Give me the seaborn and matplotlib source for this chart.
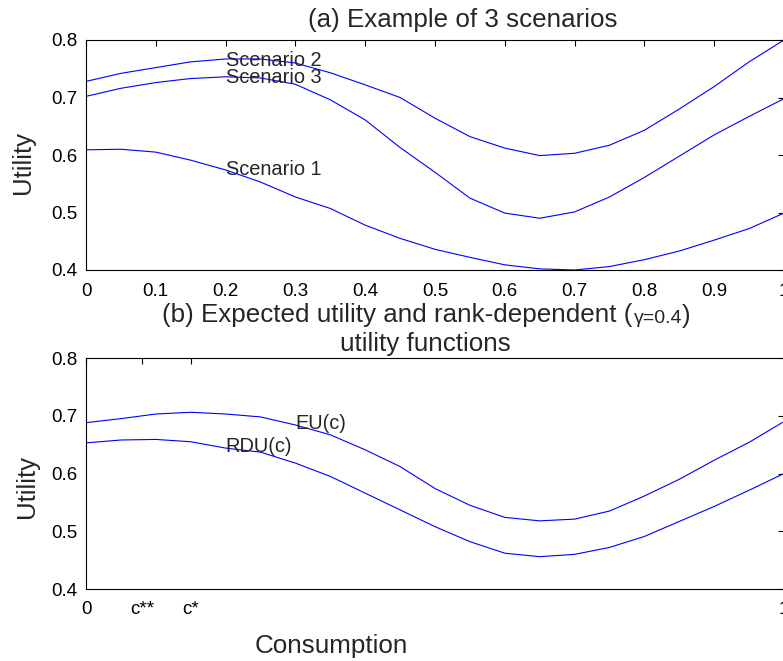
import matplotlib
matplotlib.use("Agg")
import matplotlib.pyplot as plt
import seaborn as sns
import pandas as pd

# ---------------- data ----------------
consumption = [0.00, 0.05, 0.10, 0.15, 0.20, 0.25, 0.30, 0.35, 0.40, 0.45, 0.50,
               0.55, 0.60, 0.65, 0.70, 0.75, 0.80, 0.85, 0.90, 0.95, 1.00]

scenario1 = [0.609, 0.610, 0.605, 0.591, 0.574, 0.553, 0.527, 0.507, 0.478, 0.455, 0.436,
             0.422, 0.409, 0.402, 0.400, 0.406, 0.418, 0.433, 0.452, 0.472, 0.499]
scenario2 = [0.728, 0.742, 0.752, 0.762, 0.767, 0.767, 0.760, 0.743, 0.722, 0.700, 0.664,
             0.632, 0.612, 0.599, 0.603, 0.617, 0.643, 0.680, 0.719, 0.762, 0.800]
scenario3 = [0.702, 0.716, 0.726, 0.733, 0.736, 0.734, 0.723, 0.696, 0.661, 0.613, 0.570,
             0.525, 0.499, 0.490, 0.501, 0.527, 0.561, 0.598, 0.635, 0.667, 0.698]

eu_curve = [0.688, 0.695, 0.703, 0.706, 0.703, 0.698, 0.684, 0.667, 0.641, 0.612, 0.574,
            0.545, 0.524, 0.518, 0.521, 0.535, 0.561, 0.590, 0.623, 0.654, 0.690]
rdu_curve = [0.653, 0.658, 0.659, 0.655, 0.644, 0.637, 0.618, 0.595, 0.566, 0.537, 0.508,
             0.482, 0.462, 0.456, 0.460, 0.472, 0.491, 0.517, 0.543, 0.571, 0.600]

top_xticks = [0, 0.1, 0.2, 0.3, 0.4, 0.5, 0.6, 0.7, 0.8, 0.9, 1.0]
top_xticklabels = ["0", "0.1", "0.2", "0.3", "0.4", "0.5", "0.6", "0.7", "0.8", "0.9", "1"]
yticks = [0.4, 0.5, 0.6, 0.7, 0.8]
yticklabels = ["0.4", "0.5", "0.6", "0.7", "0.8"]
bottom_xticks = [0, 0.08, 0.15, 1.0]
bottom_xticklabels = ["0", "c**", "c*", "1"]

scenario_labels = ["Scenario 1", "Scenario 2", "Scenario 3"]
scenario_label_pos = [(0.2, 0.565), (0.2, 0.755), (0.2, 0.726)]
curve_labels = ["EU(c)", "RDU(c)"]
curve_label_pos = [(0.3, 0.677), (0.2, 0.637)]

# ---------------- style ----------------
sns.set_style("white")
plt.rcParams['font.family'] = ['Liberation Sans', 'DejaVu Sans']
plt.rcParams['axes.linewidth'] = 0.8
plt.rcParams['axes.edgecolor'] = 'black'

BIG = 18.7
W, H = 783, 661
fig = plt.figure(figsize=(W / 100, H / 100), dpi=100)
fig.patch.set_facecolor('white')

ax1 = fig.add_axes([86 / W, 1 - 270 / H, 698 / W, 230 / H])
ax2 = fig.add_axes([86 / W, 1 - 589 / H, 698 / W, 231 / H])

line_kw = dict(color=(0, 0, 1), linewidth=0.8, estimator=None)

for ys in (scenario1, scenario2, scenario3):
    sns.lineplot(x=consumption, y=ys, ax=ax1, **line_kw)
for ys in (eu_curve, rdu_curve):
    sns.lineplot(x=consumption, y=ys, ax=ax2, **line_kw)

for ax in (ax1, ax2):
    ax.set_xlim(0, 1)
    ax.set_ylim(0.4, 0.8)
    ax.set_yticks(yticks)
    ax.set_yticklabels(yticklabels)
    ax.tick_params(direction='in', length=4.5, width=0.8, top=True, right=True,
                   labelsize=13.5, colors='black', pad=6)
    for s in ax.spines.values():
        s.set_visible(True)
        s.set_color('black')
        s.set_linewidth(0.8)
    ax.set_facecolor('white')
    ax.set_ylabel("Utility", fontsize=18.5)
    ax.yaxis.label.set_va('center')

ax1.set_xticks(top_xticks)
ax1.set_xticklabels(top_xticklabels)
ax2.set_xticks(bottom_xticks)
ax2.set_xticklabels(bottom_xticklabels)
ax1.tick_params(axis='x', pad=9)
ax2.tick_params(axis='x', pad=9)

ax1.yaxis.set_label_coords((23 - 86) / 698, (270 - 162) / 230)
ax2.yaxis.set_label_coords((27 - 86) / 698, (589 - 487) / 231)

ax2.set_xlabel("Consumption", fontsize=BIG, va='baseline')
ax2.xaxis.set_label_coords((331.5 - 86) / 698, (589 - 653) / 231)

# annotations
for lab, (x, y) in zip(scenario_labels, scenario_label_pos):
    ax1.text(x, y, lab, fontsize=14.4, ha='left', va='baseline')
for lab, (x, y) in zip(curve_labels, curve_label_pos):
    ax2.text(x, y, lab, fontsize=14.4, ha='left', va='baseline')

# titles
ax1.set_title("(a) Example of 3 scenarios", fontsize=BIG, pad=0,
              x=(463 - 86) / 698, y=(270 - 27) / 230, va='baseline')
ax2.set_title("utility functions", fontsize=BIG, pad=0,
              x=(425.5 - 86) / 698, y=(589 - 350.5) / 231, va='baseline')
t1 = ax2.text((162 - 86) / 698, (589 - 322) / 231,
              "(b) Expected utility and rank-dependent (", fontsize=BIG,
              transform=ax2.transAxes, ha='left', va='baseline')
t2 = ax2.annotate("\u03b3=0.4", xy=(1, 0), xycoords=t1, fontsize=14,
                  ha='left', va='bottom', xytext=(1, 0), textcoords='offset points')
t3 = ax2.annotate(")", xy=(1, 0), xycoords=t2, fontsize=BIG,
                  ha='left', va='bottom', xytext=(0, -1), textcoords='offset points')

fig.savefig("out.png", dpi=100, facecolor='white')
